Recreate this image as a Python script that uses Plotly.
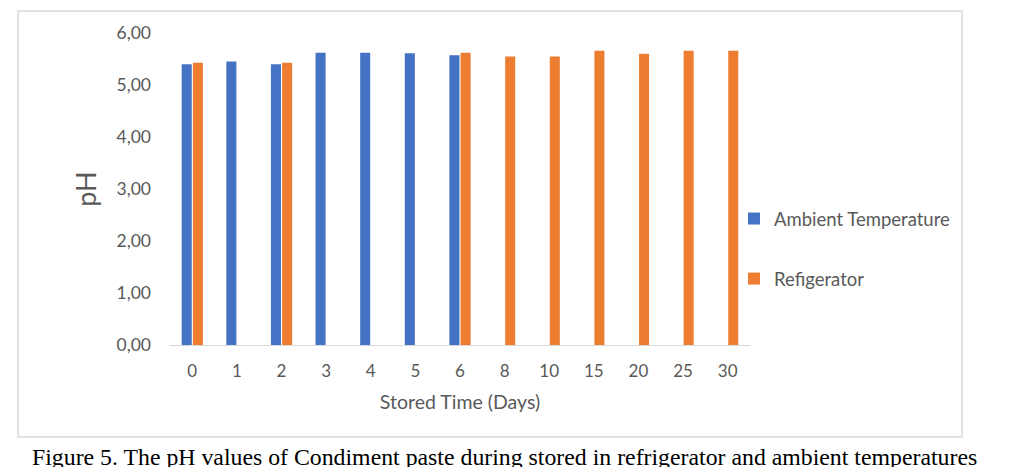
import plotly.graph_objects as go

days = ["0", "1", "2", "3", "4", "5", "6", "8", "10", "15", "20", "25", "30"]
ambient = [5.40, 5.45, 5.40, 5.62, 5.62, 5.61, 5.57, None, None, None, None, None, None]
refrigerator = [5.43, None, 5.43, None, None, None, 5.62, 5.55, 5.55, 5.66, 5.60, 5.66, 5.66]
y_ticks = [0, 1, 2, 3, 4, 5, 6]

# page has an 8px body margin; work in screen pixels and subtract it
OFF = 8
W, H = 1019 - OFF, 467 - OFF
PL, PR, PT, PB = 170 - OFF, 750 - OFF, 33 - OFF, 345 - OFF

def px(x):  # screen px -> paper
    return (x - OFF - PL) / (PR - PL)

def py(y):
    return (PB - (y - OFF)) / (PB - PT)

fig = go.Figure()
fig.add_trace(go.Bar(x=days, y=ambient, name="Ambient Temperature",
                     marker=dict(color="#4472C4", line=dict(width=0)), legendgroup="a"))
fig.add_trace(go.Bar(x=days, y=refrigerator, name="Refigerator",
                     marker=dict(color="#ED7D31", line=dict(width=0)), legendgroup="b"))

font_sans = "Lato, 'Open Sans', sans-serif"
fig.update_layout(
    width=W, height=H,
    margin=dict(l=PL, r=W - PR, t=PT, b=H - PB),
    paper_bgcolor="white", plot_bgcolor="white",
    barmode="group", bargap=0.5, bargroupgap=0.1,
    separators=",.",
    font=dict(family=font_sans, color="#595959", size=17),
    showlegend=True,
    legend=dict(x=px(734), y=py(200), xanchor="left", yanchor="top",
                font=dict(size=18.5, color="#595959", family=font_sans),
                tracegroupgap=33, itemwidth=30, bgcolor="rgba(0,0,0,0)"),
    xaxis=dict(type="category", showgrid=False, showline=True, linecolor="#D9D9D9",
               linewidth=1, ticks="", tickfont=dict(size=17, color="#595959"),
               ticklabelstandoff=11,
               title=dict(text="Stored Time (Days)", font=dict(size=19.5, color="#595959"), standoff=14)),
    yaxis=dict(range=[0, 6], tickvals=y_ticks, tickformat=".2f", showgrid=False,
               zeroline=False, showline=False, ticks="", ticklabelstandoff=18,
               tickfont=dict(size=17.5, color="#595959"),
               title=dict(text="pH", font=dict(size=27, color="#595959"), standoff=12)),
)

# chart area frame
fig.add_shape(type="rect", xref="paper", yref="paper",
              x0=px(18), x1=px(962), y0=py(437), y1=py(11),
              line=dict(color="#D9D9D9", width=1.5), layer="below")
# page border on left
fig.add_shape(type="line", xref="paper", yref="paper",
              x0=px(7), x1=px(7), y0=py(475), y1=py(0),
              line=dict(color="#333333", width=1.5))

fig.add_annotation(text="Figure 5. The pH values of Condiment paste during stored in refrigerator and ambient temperatures",
                   xref="paper", yref="paper", x=px(30), y=py(457), xanchor="left", yanchor="middle",
                   showarrow=False, font=dict(family="Liberation Serif, Times New Roman, serif", size=23.8, color="#000000"))

fig.write_html("out.html")
